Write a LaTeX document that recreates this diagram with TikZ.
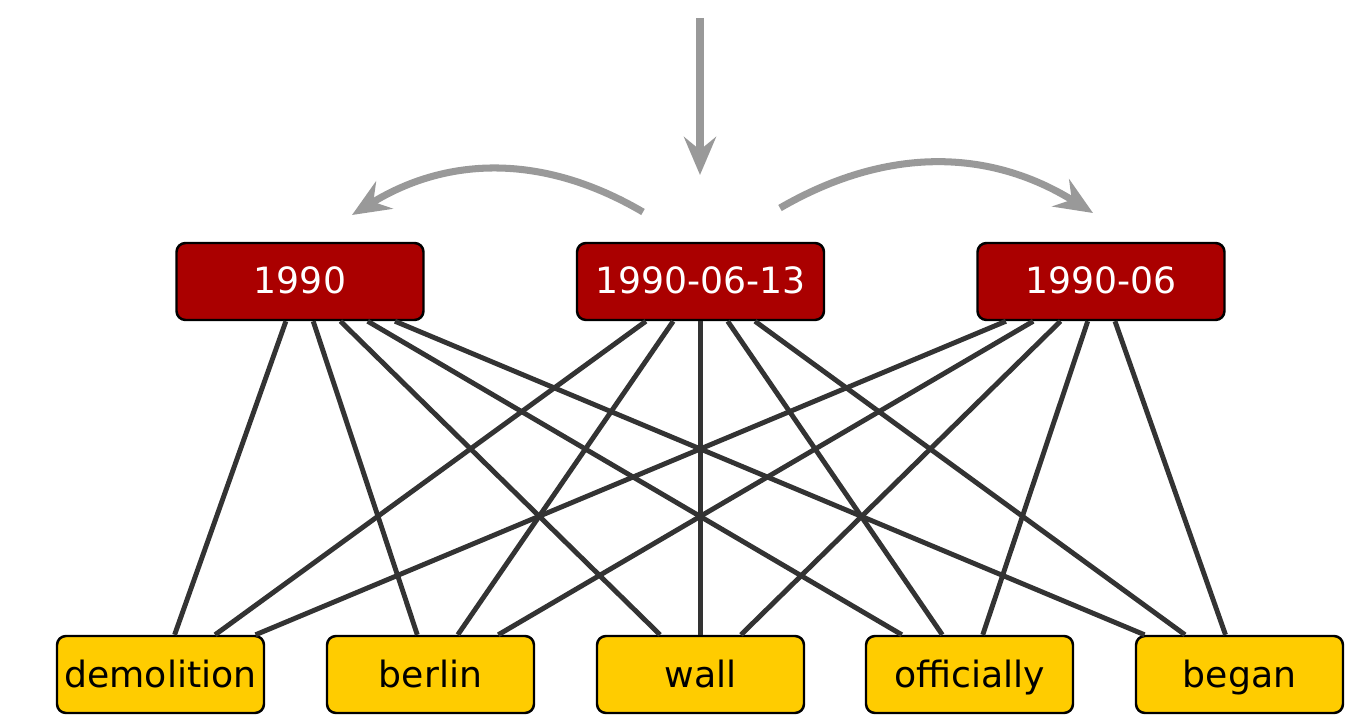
\documentclass[tikz,border=0pt]{standalone}
\usepackage{fontspec}
\setmainfont{DejaVu Sans}
\usetikzlibrary{arrows.meta}
\definecolor{datered}{HTML}{AA0000}
\definecolor{wordyellow}{HTML}{FFCC00}
\definecolor{linkgray}{HTML}{333333}
\definecolor{flowgray}{HTML}{999999}
\tikzset{
  datebox/.style={draw=black, line width=0.7pt, fill=datered, text=white,
    rounded corners=0.9mm, minimum width=2.47cm, minimum height=0.77cm,
    inner sep=0pt, text height=0.3cm, text depth=0.05cm,
    font=\fontsize{10.3}{12}\selectfont},
  wordbox/.style={datebox, fill=wordyellow, text=black, minimum width=2.07cm},
  link/.style={draw=linkgray, line width=1.4pt},
  flow/.style={draw=flowgray, line width=2pt,
    -{Stealth[length=3.8mm, width=3.2mm, inset=1.3mm]}}
}
\begin{document}
\begin{tikzpicture}
            \useasboundingbox (0,0) rectangle (13.61,7.18);
            % Date
            \node[datebox] (year) at (3.00,4.365) {1990};
            \node[datebox] (day) at (7.005,4.365) {1990-06-13};
            \node[datebox] (month) at (11.01,4.365) {1990-06};
            % Parole
            \node[wordbox] (demolition) at (1.605,0.435) {demolition};
            \node[wordbox] (berlin) at (4.305,0.435) {berlin};
            \node[wordbox] (wall) at (7.005,0.435) {wall};
            \node[wordbox] (officially) at (9.695,0.435) {officially};
            \node[wordbox] (began) at (12.395,0.435) {began};
            % Archi
            \foreach \d in {year,day,month}
                \foreach \w in {demolition,berlin,wall,officially,began}
                    \draw[link] (\d) -- (\w);
            % Frecce
            \coordinate (in) at (7.00,7.00);
            \coordinate (inend) at (7.00,5.43);
            \coordinate (lstart) at (6.43,5.06);
            \coordinate (lend) at (3.52,5.03);
            \coordinate (rstart) at (7.80,5.10);
            \coordinate (rend) at (10.93,5.05);
            \draw[flow] (in) -- (inend);
            \draw[flow] (lstart) to[bend right=31] (lend);
            \draw[flow] (rstart) to[bend left=31] (rend);
\end{tikzpicture}
\end{document}
